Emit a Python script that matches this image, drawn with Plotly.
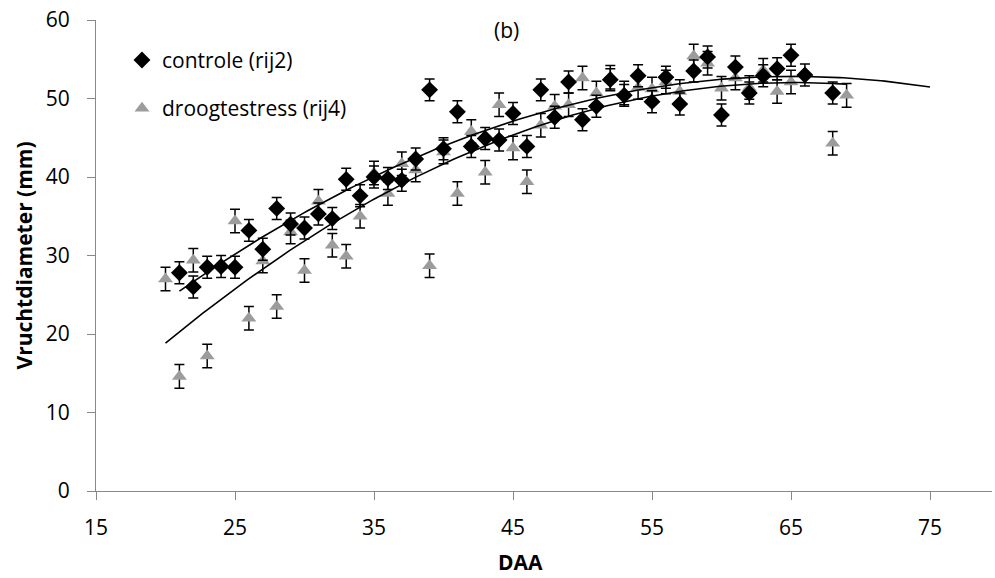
import numpy as np
import plotly.graph_objects as go

# ---- data ----
ctrl_x = [21, 22, 23, 24, 25, 26, 27, 28, 29, 30, 31, 32, 33, 34, 35, 36, 37, 38, 39, 40,
          41, 42, 43, 44, 45, 46, 47, 48, 49, 50, 51, 52, 53, 54, 55, 56, 57, 58, 59, 60,
          61, 62, 63, 64, 65, 66, 68]
ctrl_y = [27.8, 26.0, 28.5, 28.6, 28.5, 33.2, 30.8, 36.0, 34.0, 33.5, 35.3, 34.7, 39.7, 37.6, 40.0,
          39.8, 39.6, 42.3, 51.1, 43.6, 48.3, 43.9, 44.9, 44.7, 48.1, 43.9, 51.1, 47.6, 52.1, 47.3,
          49.0, 52.4, 50.4, 52.9, 49.6, 52.7, 49.3, 53.5, 55.3, 47.9, 54.0, 50.7, 52.9, 53.8, 55.5,
          53.0, 50.7]
ctrl_err = [1.4, 1.4, 1.4, 1.4, 1.4, 1.4, 1.4, 1.4, 1.4, 1.4, 1.4, 1.4, 1.4, 1.4, 1.4,
            1.4, 1.4, 1.4, 1.4, 1.4, 1.4, 1.4, 1.4, 1.4, 1.4, 1.4, 1.4, 1.4, 1.4, 1.4,
            1.4, 1.4, 1.4, 1.4, 1.4, 1.4, 1.4, 1.4, 1.4, 1.4, 1.4, 1.4, 1.4, 1.4, 1.4,
            1.4, 1.4]

drought_x = [20, 21, 22, 23, 25, 26, 27, 28, 29, 30, 31, 32, 33, 34, 35, 36, 37, 38, 39, 40,
             41, 42, 43, 44, 45, 46, 47, 48, 49, 50, 51, 52, 53, 54, 55, 56, 57, 58, 59, 60,
             61, 62, 63, 64, 65, 68, 69]
drought_y = [27.0, 14.6, 29.4, 17.2, 34.4, 22.0, 29.3, 23.5, 33.0, 28.1, 36.9, 31.3, 29.9, 35.0, 40.5,
             37.9, 41.7, 40.9, 28.7, 43.2, 37.9, 45.8, 40.6, 49.2, 43.7, 39.4, 46.6, 49.0, 49.2, 52.6,
             50.7, 52.7, 50.7, 51.4, 51.2, 52.1, 50.9, 55.4, 54.5, 51.3, 52.6, 51.4, 53.6, 50.9, 52.1,
             44.3, 50.4]
drought_err = [1.5, 1.5, 1.5, 1.5, 1.5, 1.5, 1.5, 1.5, 1.5, 1.5, 1.5, 1.5, 1.5, 1.5, 1.5,
               1.5, 1.5, 1.5, 1.5, 1.5, 1.5, 1.5, 1.5, 1.5, 1.5, 1.5, 1.5, 1.5, 1.5, 1.5,
               1.5, 1.5, 1.5, 1.5, 1.5, 1.5, 1.5, 1.5, 1.5, 1.5, 1.5, 1.5, 1.5, 1.5, 1.5,
               1.5, 1.5]

ctrl_name = "controle (rij2)"
drought_name = "droogtestress (rij4)"
x_title = "DAA"
y_title = "Vruchtdiameter (mm)"
panel_label = "(b)"
x_ticks = [15, 25, 35, 45, 55, 65, 75]
y_ticks = [0, 10, 20, 30, 40, 50, 60]
ctrl_trend_end = 75  # trendline forecast end

# ---- second-order polynomial trendlines ----
cc = np.polyfit(ctrl_x, ctrl_y, 2)
dc = np.polyfit(drought_x, drought_y, 2)
tx_c = np.linspace(min(ctrl_x), ctrl_trend_end, 200)
tx_d = np.linspace(min(drought_x), max(drought_x), 200)

FONT = "'Open Sans', Lato, sans-serif"
FS = 21

fig = go.Figure()
fig.add_trace(go.Scatter(
    x=drought_x, y=drought_y, mode="markers", name=drought_name,
    marker=dict(symbol="triangle-up", size=13, color="#9c9c9c"),
    error_y=dict(type="data", array=drought_err, color="black", thickness=1.5, width=5),
    legendgroup="d", legendrank=2))
fig.add_trace(go.Scatter(
    x=ctrl_x, y=ctrl_y, mode="markers", name=ctrl_name,
    marker=dict(symbol="diamond", size=13, color="black"),
    error_y=dict(type="data", array=ctrl_err, color="black", thickness=1.5, width=5),
    legendgroup="c", legendrank=1))
fig.add_trace(go.Scatter(x=tx_c, y=np.polyval(cc, tx_c), mode="lines",
                         line=dict(color="black", width=1.6), showlegend=False, hoverinfo="skip"))
fig.add_trace(go.Scatter(x=tx_d, y=np.polyval(dc, tx_d), mode="lines",
                         line=dict(color="black", width=1.6), showlegend=False, hoverinfo="skip"))

axis_common = dict(showgrid=False, zeroline=False, showline=True, linecolor="#888888", linewidth=1.3,
                   ticks="outside", tickcolor="#888888", ticklen=8, tickwidth=1.3, automargin=False,
                   ticklabeloverflow="allow",
                   tickfont=dict(family=FONT, size=FS, color="black"))

fig.update_layout(
    width=995, height=578,
    margin=dict(l=96, r=3, t=20, b=87),
    paper_bgcolor="white", plot_bgcolor="white",
    showlegend=True,
    legend=dict(x=0.029, y=0.958, xanchor="left", yanchor="top",
                font=dict(family=FONT, size=FS, color="black"),
                traceorder="grouped", tracegroupgap=18, bgcolor="rgba(0,0,0,0)",
                itemwidth=30),
    xaxis=dict(range=[15, 79.46], tickvals=x_ticks, ticklabelstandoff=10, **axis_common),
    yaxis=dict(range=[0, 60.001], tickvals=y_ticks, ticklabelstandoff=13, **axis_common),
    annotations=[
        dict(text=panel_label, x=0.4576, y=0.979, xref="paper", yref="paper",
             xanchor="center", yanchor="middle",
             showarrow=False, font=dict(family=FONT, size=FS, color="black")),
        dict(text="<b>" + x_title + "</b>", x=0.4743, y=0, xref="paper", yref="paper",
             xanchor="center", yanchor="middle", yshift=-71,
             showarrow=False, font=dict(family=FONT, size=FS, color="black")),
        dict(text="<b>" + y_title + "</b>", x=0, y=0.5, xref="paper", yref="paper",
             xanchor="center", yanchor="middle", xshift=-73, textangle=-90,
             showarrow=False, font=dict(family=FONT, size=FS, color="black")),
    ],
)

fig.write_html("out.html", config={"displayModeBar": False},
               post_script="document.body.style.margin='0';")
